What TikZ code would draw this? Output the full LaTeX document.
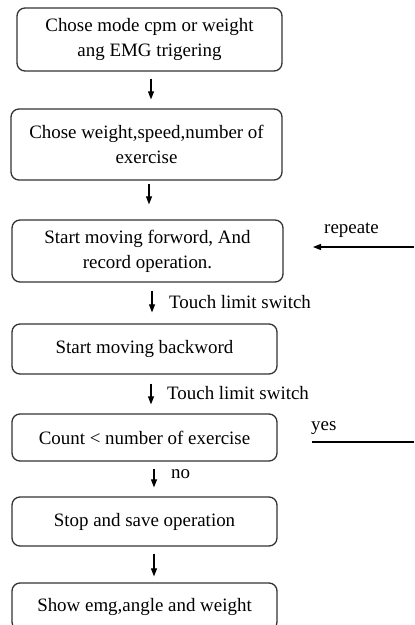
\documentclass[tikz,border=0pt]{standalone}
\usepackage{fontspec}
\setmainfont{Liberation Serif}
\usetikzlibrary{arrows.meta}
\begin{document}
\begin{tikzpicture}[x=1bp,y=-1bp,
  every node/.style={font=\fontsize{19}{25}\selectfont, inner sep=0pt},
  stepbox/.style={draw=black!80, line width=1.3bp, rounded corners=8bp,
    align=center},
  arr/.style={-{Triangle[length=8bp,width=6bp]}, line width=1.1bp},
  lbl/.style={anchor=west}]
\useasboundingbox (0,0) rectangle (414,625);
\clip (0,0) rectangle (414,625);

% process steps
\node[stepbox, minimum width=265bp, minimum height=63bp] (b1) at (149.5,39.5)
  {Chose mode cpm or weight\\ang EMG trigering};
\node[stepbox, minimum width=271bp, minimum height=71bp] (b2) at (146.5,144.5)
  {Chose weight,speed,number of\\exercise};
\node[stepbox, minimum width=271bp, minimum height=62bp] (b3) at (147.5,251)
  {Start moving forword, And\\record operation.};
\node[stepbox, minimum width=265bp, minimum height=50bp] (b4) at (144.5,349)
  {Start moving backword};
\node[stepbox, minimum width=265bp, minimum height=47bp] (b5) at (144.5,437.5)
  {Count {<} number of exercise};
\node[stepbox, minimum width=265bp, minimum height=49bp] (b6) at (144.5,521.5)
  {Stop and save operation};
\node[stepbox, minimum width=265bp, minimum height=47bp] (b7) at (144.5,606.5)
  {Show emg,angle and weight};

% downward flow
\draw[arr, shorten <=7bp, shorten >=9bp] ([xshift=1.5bp]b1.south) -- ([xshift=1.5bp]b1.south |- b2.north);
\draw[arr, shorten <=3bp, shorten >=15bp] ([xshift=2.5bp]b2.south) -- ([xshift=2.5bp]b2.south |- b3.north);
\draw[arr, shorten <=8bp, shorten >=11bp] ([xshift=4.5bp]b3.south) -- ([xshift=4.5bp]b3.south |- b4.north);
\draw[arr, shorten <=9bp, shorten >=9bp] ([xshift=6.5bp]b4.south) -- ([xshift=6.5bp]b4.south |- b5.north);
\draw[arr, shorten <=7bp, shorten >=9bp] ([xshift=9.5bp]b5.south) -- ([xshift=9.5bp]b5.south |- b6.north);
\draw[arr, shorten <=7bp, shorten >=6bp] ([xshift=9.5bp]b6.south) -- ([xshift=9.5bp]b6.south |- b7.north);

% transition labels
\node[lbl] (t1) at (169,302) {Touch limit switch};
\node[lbl] (t2) at (167,393) {Touch limit switch};
\node[lbl] (t3) at (171,474) {no};

% loop-back markers
\coordinate (rin) at (414,247);
\coordinate (rto) at (313,247);
\draw[arr] (rin) -- (rto);
\node[lbl] (rep) at (324,230) {repeate};

\coordinate (ys) at (312,442);
\coordinate (ye) at (414,442);
\draw[line width=1.1bp] (ys) -- (ye);
\node[lbl] (yes) at (311,428) {yes};
\end{tikzpicture}
\end{document}
